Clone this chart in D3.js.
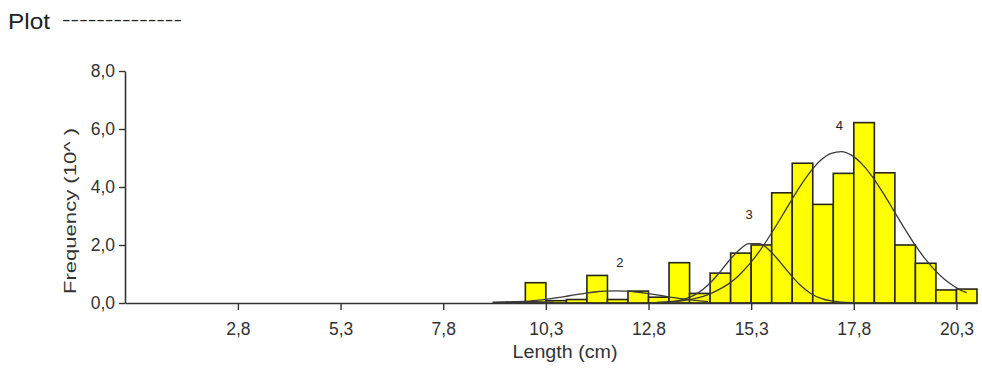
<!DOCTYPE html>
<html>
<head>
<meta charset="utf-8">
<script src="https://cdn.jsdelivr.net/npm/d3@7"></script>
<style>
  html, body { margin: 0; padding: 0; background: #fff; }
  svg { display: block; font-family: "Liberation Sans", Arial, sans-serif; }
</style>
</head>
<body>
<svg id="chart" width="982" height="371"></svg>
<script>
// Length-frequency histogram: lower bin edges (cm) and frequencies (x10^)
const binStarts = [9.8, 10.3, 10.8, 11.3, 11.8, 12.3, 12.8, 13.3, 13.8, 14.3, 14.8,
                   15.3, 15.8, 16.3, 16.8, 17.3, 17.8, 18.3, 18.8, 19.3, 19.8, 20.3];
const binFreq   = [0.70, 0.08, 0.12, 0.95, 0.12, 0.41, 0.20, 1.39, 0.33, 1.03, 1.72,
                   2.00, 3.80, 4.82, 3.40, 4.47, 6.22, 4.49, 2.00, 1.37, 0.45, 0.48];
const binWidth = 0.5;

// Fitted cohort components (length cm, frequency)
const comp1Len  = [9.0, 9.25, 9.5, 9.75, 10.0, 10.25, 10.5];
const comp1Freq = [0.01, 0.02, 0.03, 0.04, 0.03, 0.02, 0.01];

const comp2Len  = [9.75, 10.0, 10.25, 10.5, 10.75, 11.0, 11.25, 11.5, 11.75, 12.0, 12.25,
                   12.5, 12.75, 13.0, 13.25, 13.5, 13.75, 14.0, 14.25];
const comp2Freq = [0.05, 0.08, 0.12, 0.17, 0.22, 0.28, 0.33, 0.38, 0.41, 0.42, 0.41,
                   0.38, 0.33, 0.28, 0.22, 0.17, 0.12, 0.08, 0.05];

const comp3Len  = [12.75, 13.0, 13.25, 13.5, 13.75, 14.0, 14.25, 14.5, 14.75, 15.0, 15.25,
                   15.5, 15.75, 16.0, 16.25, 16.5, 16.75, 17.0, 17.25, 17.5, 17.75];
const comp3Freq = [0.00, 0.01, 0.03, 0.07, 0.17, 0.34, 0.62, 1.00, 1.44, 1.82, 2.05,
                   2.05, 1.81, 1.42, 0.99, 0.61, 0.33, 0.16, 0.07, 0.03, 0.01];

const comp4Len  = [13.0, 13.25, 13.5, 13.75, 14.0, 14.25, 14.5, 14.75, 15.0, 15.25, 15.5,
                   15.75, 16.0, 16.25, 16.5, 16.75, 17.0, 17.25, 17.5, 17.75, 18.0,
                   18.25, 18.5, 18.75, 19.0, 19.25, 19.5, 19.75, 20.0, 20.25, 20.5, 20.55];
const comp4Freq = [0.02, 0.04, 0.06, 0.11, 0.18, 0.29, 0.45, 0.66, 0.95, 1.33, 1.78,
                   2.31, 2.88, 3.47, 4.04, 4.54, 4.93, 5.16, 5.22, 5.09, 4.79,
                   4.36, 3.82, 3.24, 2.65, 2.09, 1.59, 1.17, 0.83, 0.57, 0.38, 0.36];

// Cohort labels and their anchor positions (length, frequency)
const cohortNames = ["2", "3", "4"];
const cohortLen   = [12.1, 15.25, 17.45];
const cohortFreq  = [1.25, 2.9, 5.95];

// Axis ticks
const xTickValues = [2.8, 5.3, 7.8, 10.3, 12.8, 15.3, 17.8, 20.3];
const yTickValues = [0, 2, 4, 6, 8];
const commaFmt = v => d3.format(".1f")(v).replace(".", ",");

const svg = d3.select("#chart");
const ink = "#333";

const x = d3.scaleLinear().domain([0.05, 20.8]).range([125, 977]);
const y = d3.scaleLinear().domain([0, 8]).range([303, 71]);

// Title
svg.append("text").attr("x", 8).attr("y", 29)
  .attr("font-size", 22).attr("fill", "#222")
  .attr("textLength", 42).attr("lengthAdjust", "spacingAndGlyphs")
  .text("Plot");
svg.append("text").attr("x", 62).attr("y", 25)
  .attr("font-size", 16).attr("fill", "#222")
  .attr("textLength", 120).attr("lengthAdjust", "spacingAndGlyphs")
  .text("--------------");

// Bars
const bins = binStarts.map((s, i) => ({ s, f: binFreq[i] }));
svg.append("g").selectAll("rect").data(bins).join("rect")
  .attr("x", d => x(d.s))
  .attr("y", d => y(d.f))
  .attr("width", d => x(d.s + binWidth) - x(d.s))
  .attr("height", d => y(0) - y(d.f))
  .attr("fill", "#ffff00")
  .attr("stroke", "#26261a")
  .attr("stroke-width", 1.6);

// Component curves
const line = d3.line().x(d => x(d[0])).y(d => y(d[1])).curve(d3.curveMonotoneX);
const comps = [
  [comp1Len, comp1Freq, 2.2],
  [comp2Len, comp2Freq, 1.3],
  [comp3Len, comp3Freq, 1.3],
  [comp4Len, comp4Freq, 1.3]
];
comps.forEach(([lx, fy, w]) => {
  svg.append("path")
    .datum(lx.map((v, i) => [v, fy[i]]))
    .attr("d", line)
    .attr("fill", "none")
    .attr("stroke", "#3a3a3a")
    .attr("stroke-width", w);
});

// Cohort labels
svg.append("g").selectAll("text").data(cohortNames).join("text")
  .attr("x", (d, i) => x(cohortLen[i]))
  .attr("y", (d, i) => y(cohortFreq[i]))
  .attr("text-anchor", "middle")
  .attr("font-size", 13)
  .attr("fill", "#222")
  .text(d => d);

// Axes
const xAxis = svg.append("g").attr("transform", `translate(0,${y(0)})`)
  .call(d3.axisBottom(x).tickValues(xTickValues).tickFormat(commaFmt).tickSize(7).tickSizeOuter(0));
const yAxis = svg.append("g").attr("transform", `translate(${x.range()[0]},0)`)
  .call(d3.axisLeft(y).tickValues(yTickValues).tickFormat(commaFmt).tickSize(6).tickSizeOuter(0));

[xAxis, yAxis].forEach(g => {
  g.select(".domain").attr("stroke", ink).attr("stroke-width", 1.6);
  g.selectAll(".tick line").attr("stroke", ink).attr("stroke-width", 1.4);
  g.selectAll(".tick text").attr("fill", "#333").attr("font-size", 17.5)
    .attr("font-family", "Liberation Sans, Arial, sans-serif");
});
xAxis.selectAll(".tick text").attr("y", 20).attr("dy", "0.71em");
yAxis.selectAll(".tick text").attr("x", -10);

// Axis titles
svg.append("text").attr("x", 565).attr("y", 358)
  .attr("text-anchor", "middle").attr("font-size", 17.5).attr("fill", "#333")
  .attr("textLength", 105).attr("lengthAdjust", "spacingAndGlyphs")
  .text("Length (cm)");
svg.append("text")
  .attr("transform", "translate(76,211) rotate(-90)")
  .attr("text-anchor", "middle").attr("font-size", 17).attr("fill", "#333")
  .attr("textLength", 166).attr("lengthAdjust", "spacingAndGlyphs")
  .text("Frequency (10^ )");
</script>
</body>
</html>
